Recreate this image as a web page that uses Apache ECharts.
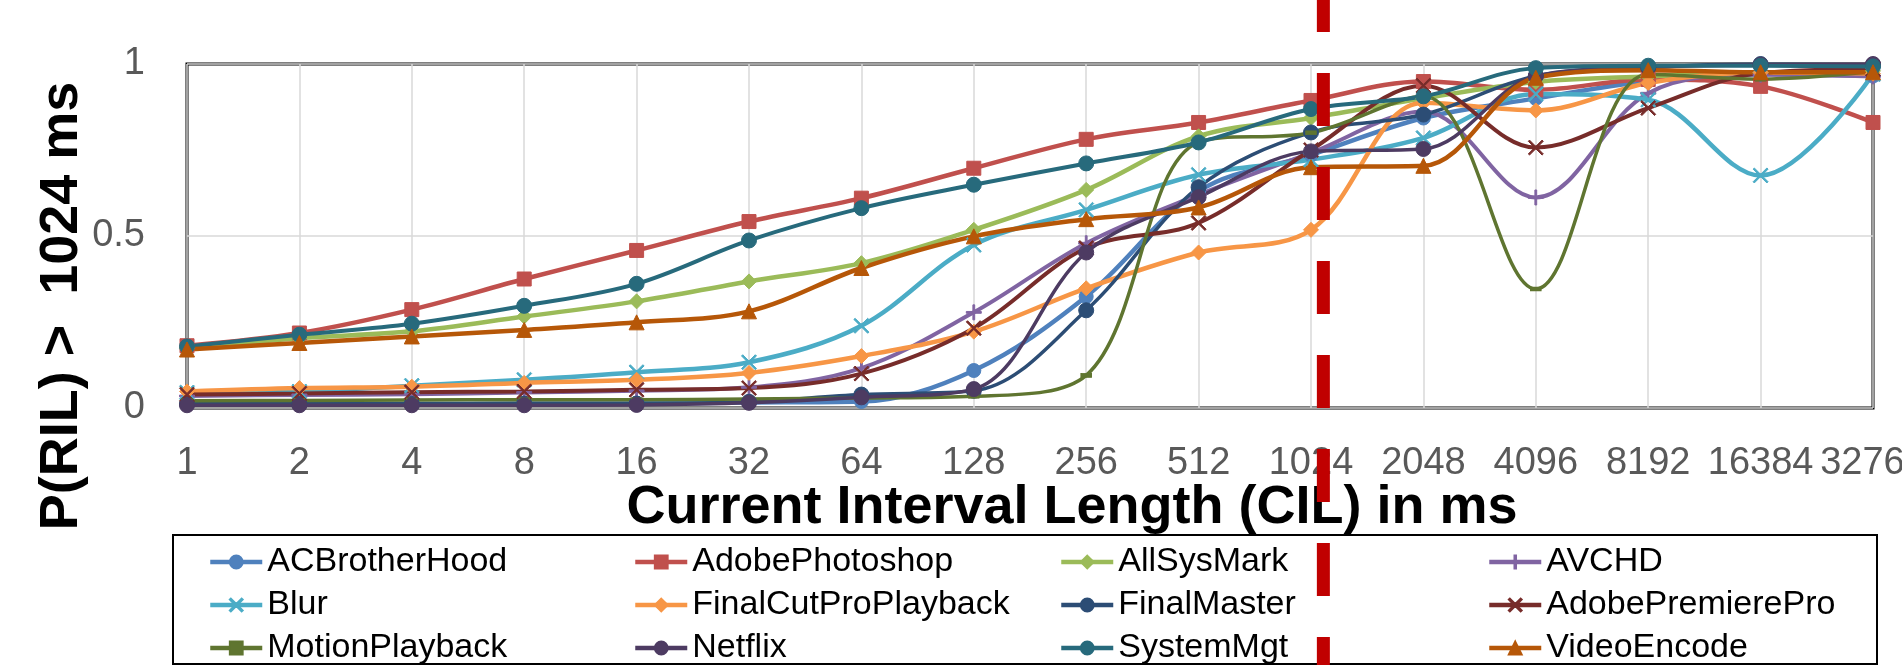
<!DOCTYPE html>
<html>
<head>
<meta charset="utf-8">
<style>
  html, body { margin: 0; padding: 0; background: #fff; }
  #chart { width: 1902px; height: 665px; }
</style>
<script src="https://cdn.jsdelivr.net/npm/echarts@6/dist/echarts.min.js"></script>
</head>
<body>
<div id="chart"></div>
<script>
// Current interval length buckets (ms)
const categories = ['1', '2', '4', '8', '16', '32', '64', '128', '256', '512', '1024', '2048', '4096', '8192', '16384', '32768'];

// P(RIL > 1024 ms) per workload
const acBrotherHood = [0.012, 0.012, 0.012, 0.013, 0.014, 0.016, 0.019, 0.109, 0.324, 0.630, 0.736, 0.843, 0.900, 0.950, 0.972, 0.965];
const adobePhotoshop = [0.181, 0.218, 0.286, 0.375, 0.458, 0.542, 0.610, 0.697, 0.781, 0.830, 0.894, 0.949, 0.925, 0.955, 0.935, 0.830];
const allSysMark = [0.174, 0.203, 0.223, 0.266, 0.310, 0.368, 0.421, 0.518, 0.634, 0.790, 0.843, 0.900, 0.948, 0.964, 0.975, 0.980];
const avchd = [0.035, 0.038, 0.040, 0.045, 0.050, 0.060, 0.116, 0.278, 0.479, 0.620, 0.742, 0.862, 0.612, 0.915, 0.969, 0.964];
const blur = [0.045, 0.048, 0.065, 0.082, 0.104, 0.133, 0.239, 0.474, 0.576, 0.678, 0.722, 0.785, 0.913, 0.896, 0.676, 0.970];
const finalCutProPlayback = [0.048, 0.058, 0.062, 0.073, 0.082, 0.102, 0.151, 0.222, 0.348, 0.452, 0.518, 0.887, 0.865, 0.945, 0.975, 0.972];
const finalMaster = [0.012, 0.012, 0.012, 0.013, 0.013, 0.018, 0.039, 0.050, 0.284, 0.642, 0.801, 0.853, 0.965, 0.990, 1.000, 0.998];
const adobePremierePro = [0.039, 0.042, 0.046, 0.048, 0.053, 0.058, 0.100, 0.232, 0.465, 0.538, 0.750, 0.937, 0.757, 0.872, 0.974, 0.985];
const motionPlayback = [0.021, 0.022, 0.023, 0.024, 0.024, 0.026, 0.029, 0.034, 0.095, 0.773, 0.800, 0.906, 0.346, 0.970, 0.956, 0.978];
const netflix = [0.008, 0.008, 0.008, 0.008, 0.009, 0.015, 0.031, 0.055, 0.452, 0.613, 0.746, 0.753, 0.965, 0.990, 0.998, 1.000];
const systemMgt = [0.179, 0.213, 0.245, 0.297, 0.361, 0.487, 0.581, 0.649, 0.711, 0.772, 0.869, 0.906, 0.988, 0.995, 0.995, 0.993];
const videoEncode = [0.170, 0.189, 0.208, 0.227, 0.249, 0.281, 0.407, 0.499, 0.549, 0.583, 0.700, 0.704, 0.960, 0.982, 0.976, 0.976];

// Axis titles
const xTitle = 'Current Interval Length (CIL) in ms';
const yTitle = 'P(RIL) >  1024 ms';

// Threshold marker just right of the 1024 ms bucket (in category index units)
const thresholdPosition = 10.11;

const FONT = "'Liberation Sans', Arial, sans-serif";

const PLUS = 'path://M8.8,0H11.2V8.8H20V11.2H11.2V20H8.8V11.2H0V8.8H8.8Z';
const CROSS = 'path://M1.6,0L10,8.4L18.4,0L20,1.6L11.6,10L20,18.4L18.4,20L10,11.6L1.6,20L0,18.4L8.4,10L0,1.6Z';

const seriesDefs = [
  { name: 'ACBrotherHood', data: acBrotherHood, color: '#4F81BD', symbol: 'circle', size: 14, width: 4.5 },
  { name: 'AdobePhotoshop', data: adobePhotoshop, color: '#C0504D', symbol: 'rect', size: 14, width: 4.5 },
  { name: 'AllSysMark', data: allSysMark, color: '#9BBB59', symbol: 'diamond', size: 15, width: 4.5 },
  { name: 'AVCHD', data: avchd, color: '#8064A2', symbol: PLUS, size: 15, width: 4 },
  { name: 'Blur', data: blur, color: '#4BACC6', symbol: CROSS, size: 15, width: 4.5 },
  { name: 'FinalCutProPlayback', data: finalCutProPlayback, color: '#F79646', symbol: 'diamond', size: 15, width: 4.5 },
  { name: 'FinalMaster', data: finalMaster, color: '#2C4D75', symbol: 'circle', size: 15, width: 3.5 },
  { name: 'AdobePremierePro', data: adobePremierePro, color: '#772C2A', symbol: CROSS, size: 15, width: 4 },
  { name: 'MotionPlayback', data: motionPlayback, color: '#5F7530', symbol: 'rect', size: [10, 4], width: 3.5 },
  { name: 'Netflix', data: netflix, color: '#4D3B62', symbol: 'circle', size: 15, width: 3.5 },
  { name: 'SystemMgt', data: systemMgt, color: '#276A7C', symbol: 'circle', size: 15, width: 4 },
  { name: 'VideoEncode', data: videoEncode, color: '#B65708', symbol: 'triangle', size: 15, width: 4.5 }
];

// Legend laid out as four columns, three rows
const legendColumns = [
  ['ACBrotherHood', 'Blur', 'MotionPlayback'],
  ['AdobePhotoshop', 'FinalCutProPlayback', 'Netflix'],
  ['AllSysMark', 'FinalMaster', 'SystemMgt'],
  ['AVCHD', 'AdobePremierePro', 'VideoEncode']
];
const legendLefts = [208, 633, 1059, 1487];

const chart = echarts.init(document.getElementById('chart'), null, { renderer: 'canvas' });

const titleStyle = { fill: '#000', fontFamily: FONT, fontSize: 54, fontWeight: 'bold', align: 'center', verticalAlign: 'middle' };

const baseGraphics = [
  {
    type: 'rect',
    shape: { x: 173, y: 535, width: 1704, height: 129 },
    style: { fill: 'none', stroke: '#000', lineWidth: 2 },
    z: 1
  },
  {
    type: 'text', x: 1072, y: 508,
    style: Object.assign({ text: xTitle }, titleStyle),
    z: 5
  },
  {
    type: 'text', x: 62, y: 306, rotation: Math.PI / 2,
    style: Object.assign({ text: yTitle }, titleStyle),
    z: 5
  }
];

const option = {
  animation: false,
  backgroundColor: '#fff',
  grid: {
    left: 187, right: 29, top: 64, bottom: 257,
    outerBoundsMode: 'none',
    containLabel: false,
    show: true, borderColor: '#000', borderWidth: 3, backgroundColor: 'transparent'
  },
  xAxis: [{
    type: 'category',
    data: categories,
    boundaryGap: false,
    axisLine: { show: false },
    axisTick: { show: false },
    axisLabel: { interval: 0, margin: 37, color: '#595959', fontFamily: FONT, fontSize: 38, hideOverlap: false },
    splitLine: { show: true, lineStyle: { color: '#D9D9D9', width: 1.5 } }
  }, {
    type: 'value',
    min: 0, max: categories.length - 1,
    show: false
  }],
  yAxis: {
    type: 'value',
    min: 0, max: 1, interval: 0.5,
    axisLine: { show: false },
    axisTick: { show: false },
    axisLabel: { margin: 42, color: '#595959', fontFamily: FONT, fontSize: 38 },
    splitLine: { show: true, lineStyle: { color: '#D9D9D9', width: 1.5 } }
  },
  legend: legendColumns.map((names, k) => ({
    orient: 'vertical',
    left: legendLefts[k],
    top: 545,
    padding: 0,
    itemWidth: 52,
    itemHeight: 16,
    itemGap: 9,
    selectedMode: false,
    data: names,
    lineStyle: { width: 4.5 },
    textStyle: { color: '#000', fontFamily: FONT, fontSize: 34, lineHeight: 34 }
  })),
  series: seriesDefs.map(s => ({
    name: s.name,
    type: 'line',
    xAxisIndex: 0,
    data: s.data,
    smooth: 0.35,
    symbol: s.symbol,
    symbolSize: s.size,
    showSymbol: true,
    lineStyle: { color: s.color, width: s.width },
    itemStyle: { color: s.color, borderColor: s.color, borderWidth: 1 },
    emphasis: { disabled: true }
  })),
  graphic: baseGraphics
};

chart.setOption(option);

// Dashed threshold line spanning the full height, placed via the axis scale
const thresholdX = chart.convertToPixel({ xAxisIndex: 1 }, thresholdPosition);
chart.setOption({
  graphic: baseGraphics.concat([{
    type: 'line',
    shape: { x1: thresholdX, y1: 0, x2: thresholdX, y2: 665 },
    style: { stroke: '#C00000', lineWidth: 13, lineDash: [53, 41], lineDashOffset: 21 },
    z: 100
  }])
});
</script>
</body>
</html>
